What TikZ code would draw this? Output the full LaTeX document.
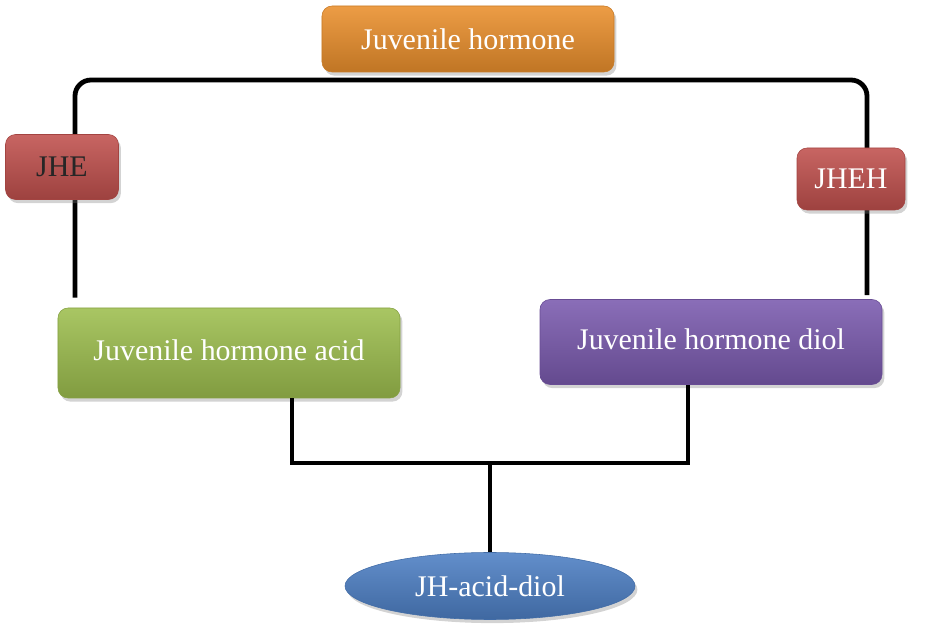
\documentclass[tikz,border=0pt]{standalone}
\usepackage{fontspec}
\setmainfont{Liberation Serif}
\usetikzlibrary{shapes.geometric,shadows,backgrounds}

\definecolor{jhorange}{HTML}{EA8F2C}
\definecolor{jhred}{HTML}{C0504D}
\definecolor{jhgreen}{HTML}{9DBE4E}
\definecolor{jhpurple}{HTML}{7A5AAE}
\definecolor{jhblue}{HTML}{4D7FC4}

\begin{document}
\begin{tikzpicture}[
  x=0.25mm, y=-0.25mm,
  every node/.style={font=\fontsize{21.3}{25}\selectfont},
  bevel/.style={top color=#1!88!white, middle color=#1, bottom color=#1!82!black,
    draw=#1!85!black, line width=0.4pt,
    drop shadow={opacity=0.35, shadow xshift=0.6mm, shadow yshift=-0.9mm}},
  box/.style={rectangle, rounded corners=2.5mm, text=white, inner sep=0pt},
  link/.style={line width=1.2mm, black},
]
\useasboundingbox (0,0) rectangle (926,632);

% substrate and enzymes
\node[box, bevel=jhorange, minimum width=73mm, minimum height=16.5mm] (jh) at (468,39) {Juvenile hormone};
\node[box, bevel=jhred, text=black!85, minimum width=28.25mm, minimum height=16.25mm] (jhe) at (62,167) {JHE};
\node[box, bevel=jhred, minimum width=27mm, minimum height=15.5mm] (jheh) at (851,179) {JHEH};

% products
\node[box, bevel=jhgreen, minimum width=85.5mm, minimum height=22.5mm] (acid) at (229,353) {\raisebox{1.5mm}{Juvenile hormone acid}};
\node[box, bevel=jhpurple, minimum width=85.5mm, minimum height=21.25mm] (diol) at (711,342) {\raisebox{1.5mm}{Juvenile hormone diol}};
\node[ellipse, bevel=jhblue, text=white, minimum width=72.5mm, minimum height=16.75mm] (jhad) at (490,586) {JH-acid-diol};

% connectors
\coordinate (tl) at (75,80);
\coordinate (tr) at (867,80);
\coordinate (join) at (490,463);
\begin{scope}[on background layer]
\draw[link, rounded corners=4mm, shorten <=2.5mm, shorten >=1mm]
  (tl |- acid.north) -- (tl) -- (tr) -- (tr |- diol.north);
\end{scope}
\draw[link] ([xshift=15.75mm]acid.south) |- (join) -| ([xshift=-5.75mm]diol.south);
\draw[link] (join) -- (jhad);
\end{tikzpicture}
\end{document}
